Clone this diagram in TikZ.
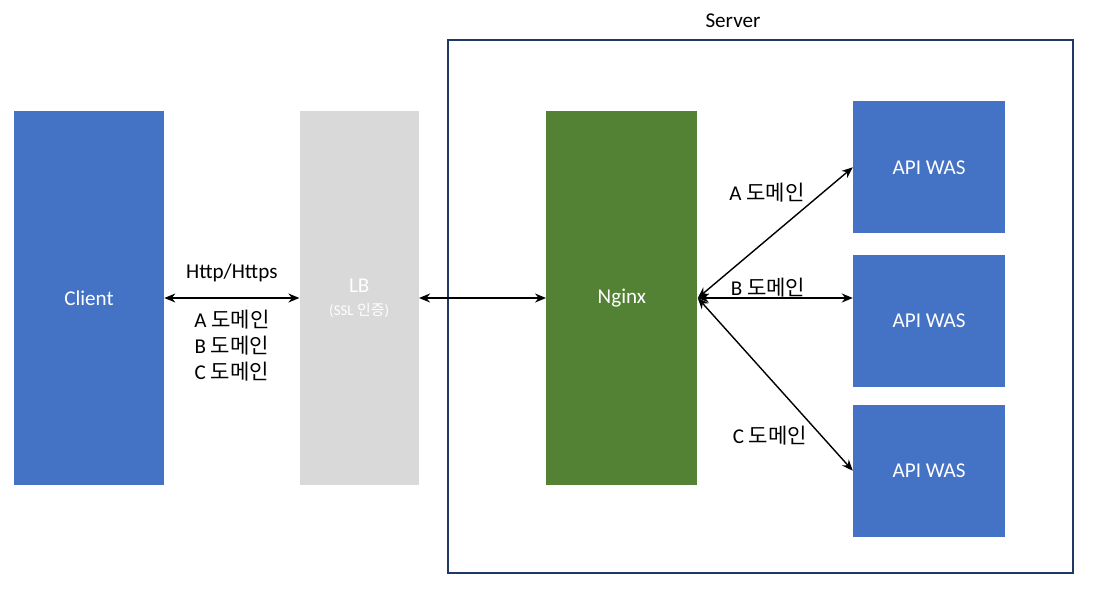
\documentclass[tikz,border=0pt]{standalone}
\usepackage{fontspec}
\setmainfont{Carlito}
\newfontfamily\kor{Noto Sans CJK KR}
\usetikzlibrary{positioning,arrows.meta}
\definecolor{wasBlue}{RGB}{68,114,196}
\definecolor{lbGray}{RGB}{217,217,217}
\definecolor{nxGreen}{RGB}{84,130,53}
\definecolor{srvNavy}{RGB}{31,56,100}

\begin{document}
\begin{tikzpicture}[
    font=\fontsize{12}{14.2}\selectfont,
    tier/.style={rectangle, minimum width=3.0cm, minimum height=7.48cm, text=white, inner sep=0pt},
    was/.style={rectangle, fill=wasBlue, minimum width=3.04cm, minimum height=2.64cm, text=white},
    link/.style={<->, >={Stealth[length=2.2mm,width=1.8mm]}, line width=0.8pt}
]
  \useasboundingbox (0,0) rectangle (21.98,11.88);

  % server frame
  \node[draw=srvNavy, line width=0.6pt, minimum width=12.5cm, minimum height=10.66cm] (server) at (15.21,5.75) {};
  \node (srvlabel) at (14.66,11.46) {Server};

  \node[tier, fill=wasBlue] (client) at (1.78,5.92) {Client};
  \node[tier, fill=lbGray, minimum width=2.38cm, align=center] (lb) [right=2.7cm of client] {LB\\[-1pt]{\fontsize{8.5}{9.5}\selectfont(SSL {\kor 인증})}};
  \node[tier, fill=nxGreen, minimum width=3.02cm] (nginx) [right=2.54cm of lb] {Nginx};

  \node[was] (was2) [right=3.1cm of nginx, yshift=-0.46cm] {API WAS};
  \node[was] (was1) [above=0.42cm of was2] {API WAS};
  \node[was] (was3) [below=0.34cm of was2] {API WAS};

  \draw[link] (client) -- node[above=5.5pt] (proto) {Http/Https}
    node[below=3pt, align=center, font=\fontsize{12}{14.8}\selectfont] (domains) {A {\kor 도메인}\\B {\kor 도메인}\\C {\kor 도메인}} (lb);
  \draw[link] (lb) -- (nginx);

  % routing by domain
  \draw[link] (nginx.east) -- (was1.west);
  \draw[link] (nginx.east) -- (nginx.east -| was2.west);
  \draw[link] (nginx.east) -- (was3.west);

  \node (doma) at (15.34,8.02) {A {\kor 도메인}};
  \node (domb) at (15.36,6.12) {B {\kor 도메인}};
  \node (domc) at (15.4,3.16) {C {\kor 도메인}};
\end{tikzpicture}
\end{document}
